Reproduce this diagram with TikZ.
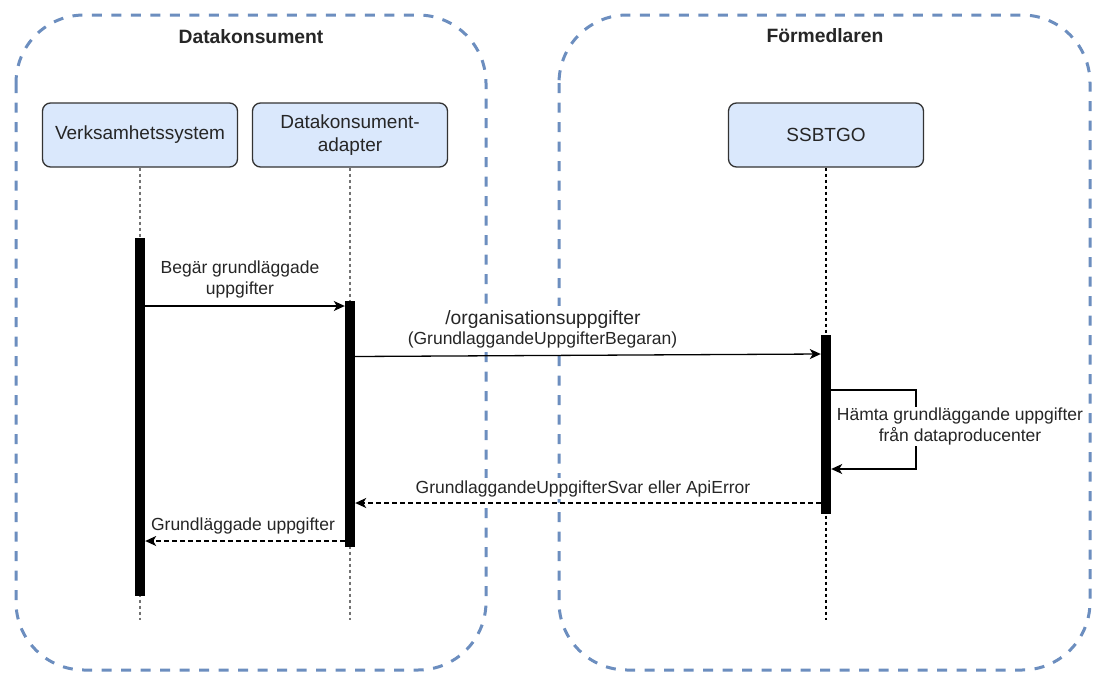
\documentclass[tikz,border=0pt]{standalone}
\usepackage{fontspec}
\setmainfont{Liberation Sans}
\usetikzlibrary{arrows.meta}
\definecolor{grpblue}{HTML}{6C8EBF}
\definecolor{actfill}{HTML}{DAE8FC}
\definecolor{txt}{HTML}{262626}
\begin{document}
\begin{tikzpicture}[x=1pt,y=-1pt,
  group/.style={draw=grpblue, line width=3pt, dash pattern=on 10pt off 9.5pt, rounded corners=68pt},
  grouptitle/.style={font=\fontsize{19.3}{22}\selectfont\bfseries, text=txt, anchor=base, inner sep=0pt},
  actor/.style={draw=black!80, fill=actfill, line width=1.3pt, rounded corners=8pt, minimum width=195pt, minimum height=64pt, align=center, font=\fontsize{19}{23}\selectfont, text=txt},
  lifeline/.style={line width=1.2pt, dash pattern=on 3pt off 3pt},
  actbar/.style={fill=black, draw=none, minimum width=10pt, inner sep=0pt},
  msg/.style={line width=1.3pt, -{Stealth[length=11pt,width=10pt,inset=3pt]}},
  ret/.style={msg, dash pattern=on 4.5pt off 3.5pt},
  lbl/.style={font=\fontsize{17.5}{21}\selectfont, text=txt, align=center, inner sep=1pt, fill=white},
  bigl/.style={font=\fontsize{19.3}{22}\selectfont, text=txt, inner xsep=1pt, inner ysep=4pt, anchor=base, fill=white}]
\useasboundingbox (0,0) rectangle (1095,675);

% groups
\draw[group] (16,15) rectangle (486,670);
\draw[group] (559,15) rectangle (1090,670);
\node[grouptitle] (t1) at (251,43) {Datakonsument};
\node[grouptitle] (t2) at (825,42) {Förmedlaren};

% actors
\node[actor] (a1) at (140,135) {Verksamhetssystem};
\node[actor] (a2) at (350,135) {Datakonsument-\\adapter};
\node[actor] (a3) at (826,135) {SSBTGO};

% lifeline ends
\coordinate (e1) at (140,620);
\coordinate (e2) at (350,620);
\coordinate (e3) at (826,620);
\draw[lifeline, black!55] (a1.south) -- (e1);
\draw[lifeline, black!55] (a2.south) -- (e2);
\draw[lifeline, black] (a3.south) -- (e3);

% activation bars
\node[actbar, minimum height=358pt] (b1) at (140,417) {};
\node[actbar, minimum height=246pt] (b2) at (350,424) {};
\node[actbar, minimum height=179pt] (b3) at (826,424.5) {};

% helper y levels
\coordinate (y306) at (0,306);
\coordinate (y356) at (0,356.5);
\coordinate (y354) at (0,354);
\coordinate (y390) at (0,390);
\coordinate (y469) at (0,469);
\coordinate (y503) at (0,503);
\coordinate (y541) at (0,541);
\coordinate (la) at (916,390);
\coordinate (lb) at (916,469);

% messages
\draw[msg] (b1.east |- y306) -- (b2.west |- y306);
\node[lbl] (l1) at (240,279) {Begär grundläggade\\uppgifter};

\draw[msg] (b2.east |- y356) -- (b3.west |- y354);
\node[bigl] (l2a) at (543,324) {/organisationsuppgifter};
\node[lbl, anchor=base, inner xsep=1pt, inner ysep=2pt] (l2b) at (542.5,344) {(GrundlaggandeUppgifterBegaran)};

\draw[msg] (b3.east |- y390) -- (la) -- (lb) -- (b3.east |- y469);
\node[lbl] (l3) at (960,426.5) {Hämta grundläggande uppgifter\\från dataproducenter};

\draw[ret] (b3.west |- y503) -- (b2.east |- y503);
\node[lbl, anchor=base, inner xsep=1pt, inner ysep=2pt] (l4) at (583,493) {GrundlaggandeUppgifterSvar eller ApiError};

\draw[ret] (b2.west |- y541) -- (b1.east |- y541);
\node[lbl, anchor=base, inner xsep=1pt, inner ysep=2pt] (l5) at (243,530) {Grundläggade uppgifter};
\end{tikzpicture}
\end{document}
